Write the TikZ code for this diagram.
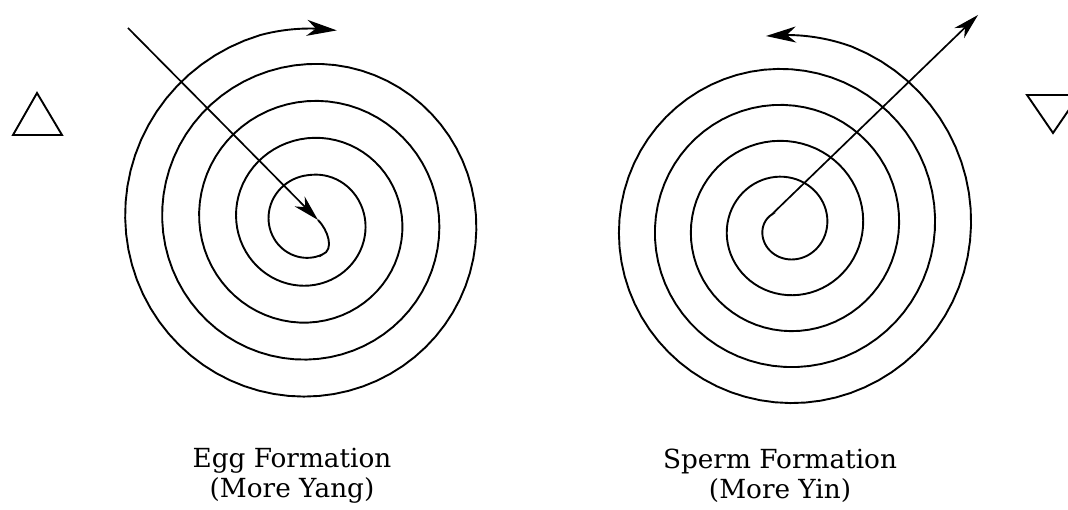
\documentclass[tikz,border=0pt]{standalone}
\usepackage{fontspec}
\setmainfont{DejaVu Serif}
\usepackage{tikz}
\usetikzlibrary{arrows.meta,bending}

\begin{document}
\begin{tikzpicture}[x=1pt,y=1pt,
    spiral/.style={line width=1.9pt},
    outtip/.style={-{Stealth[length=30pt,width=16pt,inset=9pt]}},
    ray/.style={line width=1.7pt,-{Stealth[length=26pt,width=14pt,inset=8pt]}},
    sign/.style={line width=1.9pt,line join=miter},
    caption/.style={align=center,font=\fontsize{26.3}{30}\selectfont}]
    \useasboundingbox (0,0) rectangle (1068,510);
    \clip (0,0) rectangle (1068,510);
    \draw[sign] (13,375)--(62,375)--(37,417)--cycle;
    \draw[sign] (1027,415)--(1079,415)--(1053,377)--cycle;
    \coordinate (eggTail) at (128,482);
    \coordinate (eggIn) at (318,290);
    \draw[spiral,outtip] (eggIn) to[out=-45,in=20] (322.2,255.4) -- plot[domain=-200:1425,samples=330] ({310+(46+0.10278*\x-0.05139*min(\x,0))*sin(\x)},{289+(46+0.10278*\x-0.05139*min(\x,0))*cos(\x)}) arc[start angle=105,end angle=82,radius=192.5];
    \draw[ray] (eggTail) -- (eggIn);
    \coordinate (spermIn) at (771.4,295.2);
    \coordinate (spermTip) at (978,495);
    \draw[spiral,outtip] (spermIn) -- plot[domain=-310:1420,samples=350] ({786-(50+0.1*\x)*sin(\x)},{283+(50+0.1*\x)*cos(\x)}) arc[start angle=70,end angle=96,radius=192];
    \draw[ray] (spermIn) -- (spermTip);
    \node[caption] (eggText) at (292,34) {Egg Formation\\(More Yang)};
    \node[caption] (spermText) at (780,34) {Sperm Formation\\(More Yin)};
\end{tikzpicture}
\end{document}
